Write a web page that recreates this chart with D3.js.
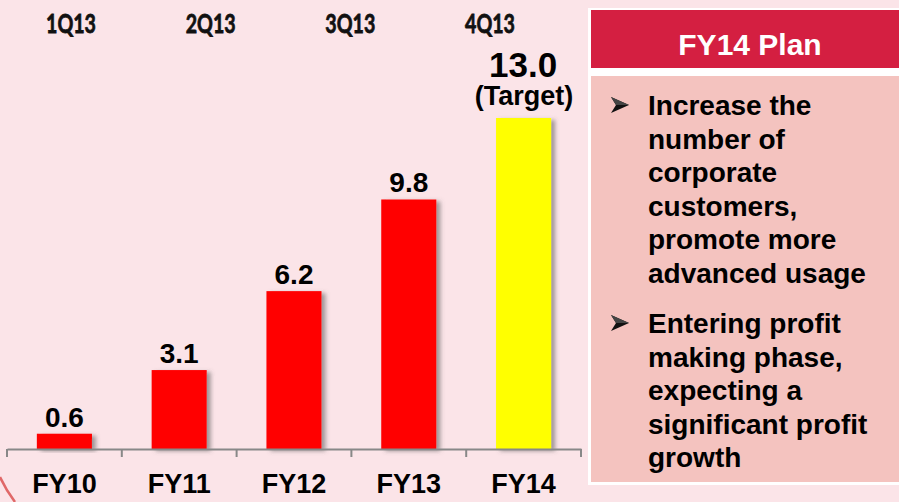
<!DOCTYPE html>
<html>
<head>
<meta charset="utf-8">
<script src="https://cdn.jsdelivr.net/npm/d3@7"></script>
<style>
  html, body { margin: 0; padding: 0; background: #fbe4e8; }
  svg { display: block; }
</style>
</head>
<body>
<div id="chart"></div>
<script>
// Data
const years = ["FY10", "FY11", "FY12", "FY13", "FY14"];
const values = [0.6, 3.1, 6.2, 9.8, 13.0];
const quarters = ["1Q13", "2Q13", "3Q13", "4Q13"];
const planTitle = "FY14 Plan";
const bullets = [
  ["Increase the", "number of", "corporate", "customers,", "promote more", "advanced usage"],
  ["Entering profit", "making phase,", "expecting a", "significant profit", "growth"]
];

const W = 899, H = 502;
const svg = d3.select("#chart").append("svg").attr("width", W).attr("height", H);

svg.append("rect").attr("width", W).attr("height", H).attr("fill", "#fbe4e8");

// shadow for bars
const defs = svg.append("defs");
defs.append("filter").attr("id", "shadow").attr("x", "-20%").attr("y", "-20%").attr("width", "150%").attr("height", "140%")
  .append("feDropShadow").attr("dx", 4).attr("dy", 2).attr("stdDeviation", 2)
  .attr("flood-color", "#555").attr("flood-opacity", 0.55);

// decorative arc bottom left
svg.append("path").attr("d", "M0,477 Q6,490 15,502")
  .attr("fill", "none").attr("stroke", "#e06868").attr("stroke-width", 2.5);

// Scales
const x = d3.scaleBand().domain(years).range([7, 581]).padding(0);
const y = d3.scaleLinear().domain([0, 13]).range([449, 118]);
const barW = x.bandwidth() * 0.48;

// Bars
svg.selectAll("rect.bar").data(years).enter().append("rect")
  .attr("class", "bar")
  .attr("x", d => x(d) + (x.bandwidth() - barW) / 2)
  .attr("y", (d, i) => y(values[i]))
  .attr("width", barW)
  .attr("height", (d, i) => y(0) - y(values[i]))
  .attr("fill", (d, i) => d === "FY14" ? "#ffff00" : "#ff0000")
  .attr("filter", "url(#shadow)");

// Axis
const axis = svg.append("g").attr("transform", `translate(0,${y(0)})`)
  .call(d3.axisBottom(x).tickSize(0).tickFormat(""));
axis.select(".domain").attr("stroke", "#888").attr("stroke-width", 2);
const bounds = years.map(d => x(d)).concat([x.range()[1]]);
axis.selectAll("line.sep").data(bounds).enter().append("line").attr("class", "sep")
  .attr("x1", d => d).attr("x2", d => d).attr("y1", 0).attr("y2", 8)
  .attr("stroke", "#888").attr("stroke-width", 2);

svg.selectAll("text.cat").data(years).enter().append("text")
  .attr("class", "cat")
  .attr("x", d => x(d) + x.bandwidth() / 2)
  .attr("y", 493)
  .attr("text-anchor", "middle")
  .attr("font-family", "Liberation Sans, Arial, sans-serif")
  .attr("font-weight", "bold").attr("font-size", 27)
  .text(d => d);

// Value labels
svg.selectAll("text.val").data(years.slice(0, 4)).enter().append("text")
  .attr("class", "val")
  .attr("x", d => x(d) + x.bandwidth() / 2)
  .attr("y", (d, i) => y(values[i]) - 7)
  .attr("text-anchor", "middle")
  .attr("font-family", "Liberation Sans, Arial, sans-serif")
  .attr("font-weight", "bold").attr("font-size", 28)
  .text((d, i) => values[i].toFixed(1));

const cx14 = x("FY14") + x.bandwidth() / 2;
svg.append("text").attr("x", cx14 - 0.5).attr("y", 77).attr("text-anchor", "middle")
  .attr("font-family", "Liberation Sans, Arial, sans-serif")
  .attr("font-weight", "bold").attr("font-size", 35)
  .text(values[4].toFixed(1));
svg.append("text").attr("x", cx14 + 0.5).attr("y", 105).attr("text-anchor", "middle")
  .attr("font-family", "Liberation Sans, Arial, sans-serif")
  .attr("font-weight", "bold").attr("font-size", 27)
  .text("(Target)");

// Quarter labels across top
const qx = d3.scalePoint().domain(quarters).range([71, 490]);
svg.selectAll("text.q").data(quarters).enter().append("text")
  .attr("class", "q")
  .attr("x", d => qx(d) - 25)
  .attr("y", 33)
  .attr("textLength", 50).attr("lengthAdjust", "spacingAndGlyphs")
  .attr("font-family", "Lato, sans-serif")
  .attr("font-weight", "bold").attr("font-size", 27)
  .attr("fill", "#111").attr("stroke", "#111").attr("stroke-width", 0.8)
  .text(d => d);

// Right panel
svg.append("rect").attr("x", 588).attr("y", 8).attr("width", 320).attr("height", 477).attr("fill", "#ffffff");
svg.append("rect").attr("x", 591).attr("y", 10).attr("width", 320).attr("height", 58).attr("fill", "#d41f41");
svg.append("rect").attr("x", 591).attr("y", 76).attr("width", 320).attr("height", 406).attr("fill", "#f4c3bf");

svg.append("text").attr("x", 750).attr("y", 55).attr("text-anchor", "middle")
  .attr("font-family", "Liberation Sans, Arial, sans-serif")
  .attr("font-weight", "bold").attr("font-size", 30).attr("fill", "#ffffff")
  .text(planTitle);

const lineH = 33.6;
const bulletTop = [115, 333];
bullets.forEach((lines, b) => {
  const by = bulletTop[b] - 10;
  const g = svg.append("g").attr("transform", `translate(611,${by})`);
  g.append("path").attr("d", "M0,-8 L18,0 L0,8 L5,0 Z").attr("fill", "#111");
  g.append("path").attr("d", "M0,-8 L18,0 L5,0 Z").attr("fill", "#444");
  svg.selectAll(null).data(lines).enter().append("text")
    .attr("x", 648)
    .attr("y", (d, i) => bulletTop[b] + i * lineH)
    .attr("font-family", "Liberation Sans, Arial, sans-serif")
    .attr("font-weight", "bold").attr("font-size", 28).attr("fill", "#000")
    .text(d => d);
});
</script>
</body>
</html>
